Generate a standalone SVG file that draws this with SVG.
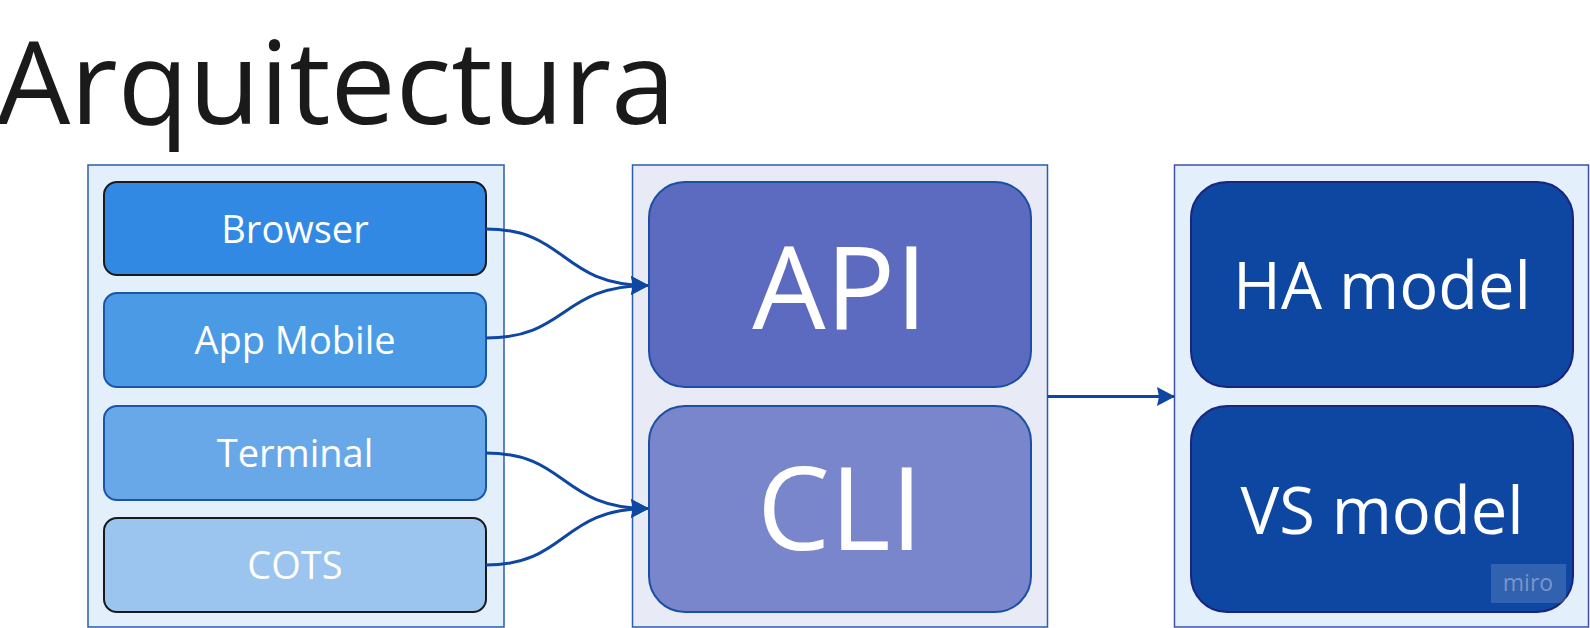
<svg xmlns="http://www.w3.org/2000/svg" width="1590" height="628" viewBox="0 0 1590 628">
<style>
text{font-family:"Open Sans","Noto Sans","Liberation Sans",sans-serif;text-anchor:middle;fill:#ffffff}
.title{text-anchor:start;fill:#1a1a1a;font-size:116px}
.small{font-size:38px}
.big{font-size:116px}
.mid{font-size:65px}
.cont{stroke-width:1.5}
.conn{fill:none;stroke:#0d47a1;stroke-width:3}
</style>
<defs>
<marker id="arr" markerUnits="strokeWidth" viewBox="0 0 18 20" refX="17" refY="10" markerWidth="6" markerHeight="6.67" orient="auto">
<path d="M0,0.5 L18,10 L0,19.5 L2,10 z" fill="#0d47a1"/>
</marker>
</defs>
<rect width="1590" height="628" fill="#ffffff"/>
<text class="title" x="-3" y="124">Arquitectura</text>
<g id="clients">
<rect class="cont" x="88" y="165" width="416" height="462" fill="#e3f0fc" stroke="#2a5db0"/>
</g>
<g id="core">
<rect class="cont" x="632.5" y="165" width="415" height="462" fill="#e8eaf6" stroke="#2a5db0"/>
</g>
<g id="models">
<rect class="cont" x="1174.5" y="165" width="414" height="462" fill="#e3f0fc" stroke="#4050a8"/>
</g>
<g id="browser">
<rect x="104" y="182" width="382" height="93" rx="13" fill="#3289e3" stroke="#1a1a1a" stroke-width="2"/>
<text class="small" x="295" y="243">Browser</text>
</g>
<g id="app-mobile">
<rect x="104" y="293" width="382" height="94" rx="13" fill="#4b9ae6" stroke="#1a55a8" stroke-width="2"/>
<text class="small" x="295" y="354">App Mobile</text>
</g>
<g id="terminal">
<rect x="104" y="406" width="382" height="94" rx="13" fill="#68a8e9" stroke="#1a55a8" stroke-width="2"/>
<text class="small" x="295" y="467">Terminal</text>
</g>
<g id="cots">
<rect x="104" y="518" width="382" height="94" rx="13" fill="#9bc4ee" stroke="#1a1a1a" stroke-width="2"/>
<text class="small" x="295" y="579">COTS</text>
</g>
<g id="api">
<rect x="649" y="182" width="382" height="205" rx="36" fill="#5c6bc0" stroke="#1a4fa5" stroke-width="2"/>
<text class="big" x="840" y="329">API</text>
</g>
<g id="cli">
<rect x="649" y="406" width="382" height="206" rx="36" fill="#7986cb" stroke="#1a4fa5" stroke-width="2"/>
<text class="big" x="840" y="550">CLI</text>
</g>
<g id="ha-model">
<rect x="1191" y="182" width="382" height="205" rx="36" fill="#0d47a1" stroke="#1a237e" stroke-width="2"/>
<text class="mid" x="1382" y="309">HA model</text>
</g>
<g id="vs-model">
<rect x="1191" y="406" width="382" height="206" rx="36" fill="#0d47a1" stroke="#1a237e" stroke-width="2"/>
<text class="mid" x="1382" y="534">VS model</text>
</g>
<g id="connectors">
<path class="conn" d="M486,229 C568,229 560,285.5 648,285.5" marker-end="url(#arr)"/>
<path class="conn" d="M486,338 C568,338 560,285.5 648,285.5" marker-end="url(#arr)"/>
<path class="conn" d="M486,453 C568,453 560,508.5 648,508.5" marker-end="url(#arr)"/>
<path class="conn" d="M486,565 C568,565 560,508.5 648,508.5" marker-end="url(#arr)"/>
<path class="conn" d="M1047.5,396.5 L1174,396.5" marker-end="url(#arr)"/>
</g>
<g id="watermark">
<rect x="1491" y="564" width="75" height="39" fill="#ffffff" fill-opacity="0.15"/>
<text x="1528" y="591" style="font-size:23px;fill:#7a94cc">miro</text>
</g>
</svg>
